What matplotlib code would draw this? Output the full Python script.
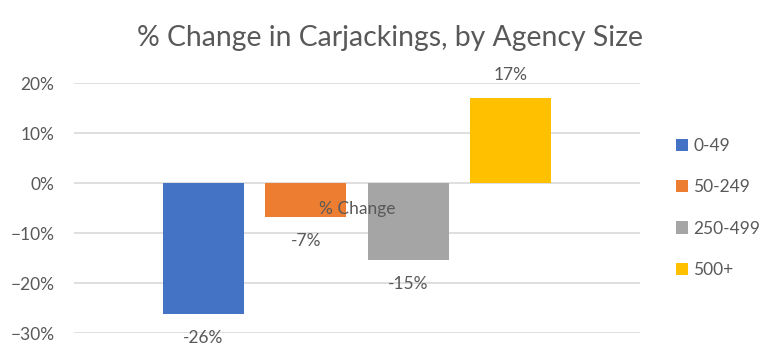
import matplotlib
matplotlib.use("Agg")
import matplotlib.pyplot as plt
from matplotlib.patches import Patch
from matplotlib.ticker import PercentFormatter

plt.rcParams['font.family'] = ['Lato', 'DejaVu Sans']

# ---- data ----
category = ["% Change"]
series_names = ["0-49", "50-249", "250-499", "500+"]
values = [-0.262, -0.068, -0.154, 0.171]
labels = ["-26%", "-7%", "-15%", "17%"]
colors = ["#4472C4", "#ED7D31", "#A5A5A5", "#FFC000"]
yticks = [-0.30, -0.20, -0.10, 0.0, 0.10, 0.20]

TXT = "#595959"
fig = plt.figure(figsize=(7.77, 3.55), dpi=100)
ax = fig.add_axes([74/777, 1-333/355, (640-74)/777, (333-83)/355])

n = len(series_names)
width = 0.143
step = 0.181
offsets = [(i - (n-1)/2) * step for i in range(n)]
for i, (name, v, lab, c) in enumerate(zip(series_names, values, labels, colors)):
    ax.bar(0 + offsets[i], v, width=width, color=c, zorder=2, label=name)
    off = 16 if v >= 0 else -17
    ax.annotate(lab, xy=(offsets[i], v), xytext=(0, off), textcoords='offset points',
                ha='center', va='center', fontsize=12.5, color=TXT)

ax.set_xlim(-0.5, 0.5)
ax.set_ylim(-0.30, 0.20)
ax.set_yticks(yticks)
ax.yaxis.set_major_formatter(PercentFormatter(1.0, decimals=0))
ax.grid(axis='y', color='#D9D9D9', linewidth=1.2)
ax.set_axisbelow(True)
for s in ['top', 'right', 'left']:
    ax.spines[s].set_visible(False)
ax.spines['bottom'].set_position(('data', 0))
ax.spines['bottom'].set_color('none')
ax.set_xticks([0])
ax.set_xticklabels(category)
ax.tick_params(axis='x', length=0, pad=13, labelsize=12.5, labelcolor=TXT)
ax.tick_params(axis='y', length=0, pad=14, labelsize=12.5, labelcolor=TXT)
ax.xaxis.set_zorder(5)

fig.text(390/777, 1-38/355, "% Change in Carjackings, by Agency Size", ha='center', va='center',
         fontsize=20.4, color=TXT, fontweight='normal')

handles = [Patch(facecolor=c, edgecolor='none') for c in colors]
fig.legend(handles, series_names, loc='center left', bbox_to_anchor=(676/777, 1-208/355),
           frameon=False, fontsize=12.5, handlelength=0.7, handleheight=0.7,
           handletextpad=0.3, labelspacing=1.45, borderpad=0, borderaxespad=0,
           labelcolor=TXT)

fig.savefig("out.png", dpi=100)
